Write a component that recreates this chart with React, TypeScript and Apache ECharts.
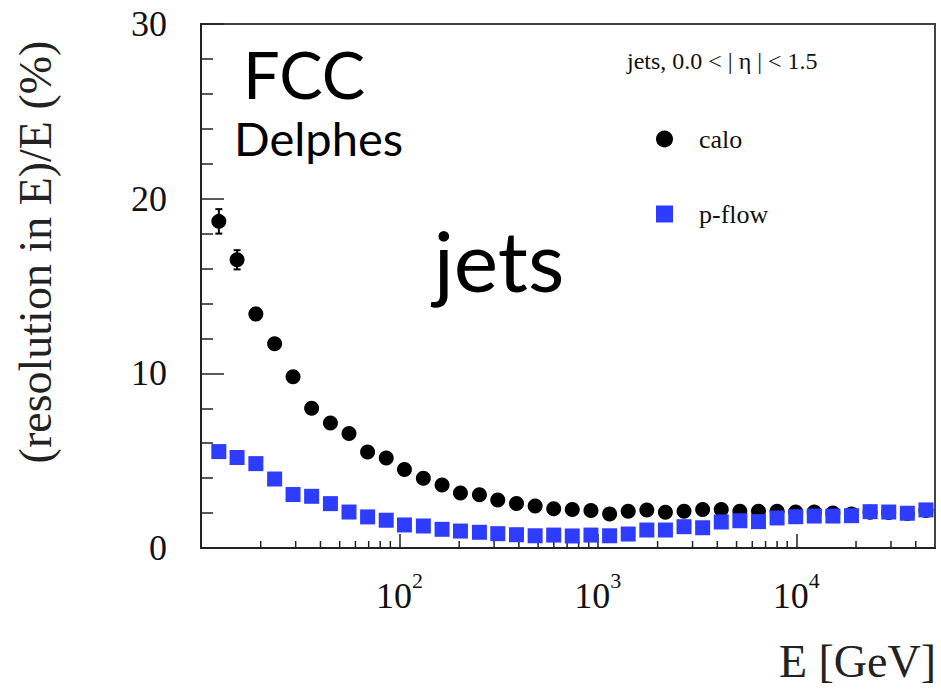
import React, { useEffect, useRef } from "react";
import * as echarts from "echarts";

// Jet energy (GeV), bin centres on a log scale
const energies = [
  12.3, 15.2, 18.9, 23.5, 29.1, 36.1, 44.9, 55.7, 69.1, 85.8,
  106, 132, 164, 203, 253, 313, 389, 483, 599, 743,
  923, 1146, 1422, 1765, 2190, 2718, 3373, 4186, 5195, 6447,
  8000, 9930, 12320, 15290, 18980, 23550, 29230, 36270, 45010,
];

// Relative energy resolution (%), calorimeter-only jets
const caloRes = [
  18.7, 16.5, 13.4, 11.7, 9.8, 8.0, 7.15, 6.55, 5.5, 5.15,
  4.5, 4.0, 3.6, 3.15, 3.05, 2.75, 2.55, 2.4, 2.25, 2.2,
  2.15, 1.95, 2.1, 2.18, 2.05, 2.1, 2.2, 2.2, 2.1, 2.1,
  2.1, 2.06, 2.06, 2.0, 1.95, 2.05, 2.03, 1.97, 2.15,
];

// Statistical uncertainty on the calo points (%)
const caloErr = [
  0.7, 0.55, 0.35, 0.3, 0.25, 0.2, 0.2, 0.18, 0.15, 0.15,
  0.12, 0.12, 0.1, 0.1, 0.1, 0.1, 0.1, 0.1, 0.1, 0.1,
  0.1, 0.1, 0.1, 0.1, 0.1, 0.1, 0.1, 0.1, 0.1, 0.1,
  0.1, 0.1, 0.1, 0.1, 0.1, 0.1, 0.1, 0.1, 0.1,
];

// Relative energy resolution (%), particle-flow jets
const pflowRes = [
  5.52, 5.18, 4.83, 3.95, 3.06, 2.96, 2.54, 2.06, 1.78, 1.59,
  1.32, 1.26, 1.07, 0.97, 0.9, 0.82, 0.76, 0.7, 0.74, 0.69,
  0.74, 0.7, 0.8, 1.03, 1.03, 1.22, 1.16, 1.49, 1.56, 1.51,
  1.72, 1.79, 1.83, 1.83, 1.85, 2.08, 2.06, 1.99, 2.18,
];

// Minor ticks of the logarithmic energy axis
const xMinorTicks = [
  20, 30, 40, 50, 60, 70, 80, 90,
  200, 300, 400, 500, 600, 700, 800, 900,
  2000, 3000, 4000, 5000, 6000, 7000, 8000, 9000,
  20000, 30000, 40000,
];

const SERIF = "'Liberation Serif', 'DejaVu Serif', serif";
const SANS = "Lato, 'Open Sans', sans-serif";
const INK = "#111";
const BLUE = "#2e3cff";

export default function App() {
  const ref = useRef<HTMLDivElement>(null);

  useEffect(() => {
    if (!ref.current) return;
    const chart = echarts.init(ref.current, undefined, { renderer: "svg" });

    const option = {
      animation: false,
      backgroundColor: "#fff",
      grid: {
        left: 201,
        top: 24,
        width: 734,
        height: 524,
        show: true,
        borderColor: "#444",
        borderWidth: 2,
        backgroundColor: "transparent",
      },
      legend: {
        data: ["calo", "p-flow"],
        orient: "vertical",
        left: 651,
        top: 121,
        itemWidth: 17,
        itemHeight: 17,
        itemGap: 49,
        textStyle: {
          fontFamily: SERIF,
          fontSize: 26,
          color: INK,
          lineHeight: 25,
          padding: [0, 0, 0, 21],
        },
      },
      xAxis: {
        type: "log",
        logBase: 10,
        min: 10,
        max: 50000,
        splitLine: { show: false },
        axisLine: { lineStyle: { color: "#222", width: 2 } },
        axisTick: { inside: true, length: 14, lineStyle: { color: "#222", width: 1.5 } },
        axisLabel: {
          margin: 21,
          color: INK,
          showMinLabel: false,
          showMaxLabel: false,
          formatter: (v: number) => {
            const lg = Math.log10(v);
            const p = Math.round(lg);
            if (p <= 1 || Math.abs(lg - p) > 1e-6) return "";
            return `{b|10}{s|${p}}`;
          },
          rich: {
            b: { fontFamily: SERIF, fontSize: 36, color: INK },
            s: { fontFamily: SERIF, fontSize: 22, color: INK, padding: [0, 0, 32, 0] },
          },
        },
      },
      yAxis: {
        type: "value",
        min: 0,
        max: 30,
        interval: 10,
        splitLine: { show: false },
        axisLine: { show: true, lineStyle: { color: "#222", width: 2 } },
        axisTick: { inside: true, length: 23, lineStyle: { color: "#222", width: 1.5 } },
        minorTick: { show: true, splitNumber: 5, length: 12, lineStyle: { color: "#222", width: 1.5 } },
        axisLabel: { margin: 34, fontFamily: SERIF, fontSize: 36, color: INK },
      },
      graphic: [
        {
          type: "text",
          x: 35,
          y: 252,
          rotation: Math.PI / 2,
          style: {
            text: "(resolution in E)/E (%)",
            fontFamily: SERIF,
            fontSize: 46,
            fill: "#222",
            textAlign: "center",
            textVerticalAlign: "middle",
          },
        },
        {
          type: "text",
          x: 936,
          y: 661,
          style: {
            text: "E [GeV]",
            fontFamily: SERIF,
            fontSize: 46,
            fill: "#222",
            textAlign: "right",
            textVerticalAlign: "middle",
          },
        },
        {
          type: "text",
          x: 243,
          y: 74,
          style: { text: "FCC", fontFamily: SANS, fontSize: 65, fill: "#000", textAlign: "left", textVerticalAlign: "middle" },
        },
        {
          type: "text",
          x: 234,
          y: 138,
          style: { text: "Delphes", fontFamily: SANS, fontSize: 47, fill: "#000", textAlign: "left", textVerticalAlign: "middle" },
        },
        {
          type: "text",
          x: 499,
          y: 259,
          style: { text: "jets", fontFamily: SANS, fontSize: 84, fill: "#000", textAlign: "center", textVerticalAlign: "middle" },
        },
        {
          type: "text",
          x: 627,
          y: 61,
          style: { text: "jets, 0.0 < | η | < 1.5", fontFamily: SERIF, fontSize: 24, fill: INK, textAlign: "left", textVerticalAlign: "middle" },
        },
      ],
      series: [
        {
          name: "minor ticks",
          type: "custom",
          silent: true,
          clip: false,
          data: xMinorTicks.map((v) => [v, 0]),
          renderItem: (_params: any, api: any) => {
            const p = api.coord([api.value(0), 0]);
            return {
              type: "line",
              shape: { x1: p[0], y1: p[1], x2: p[0], y2: p[1] - 7 },
              style: { stroke: "#222", lineWidth: 1.5 },
            };
          },
          z: 1,
        },
        {
          name: "calo errors",
          type: "custom",
          silent: true,
          data: energies.map((e, i) => [e, caloRes[i], caloErr[i]]),
          encode: { x: 0, y: 1 },
          renderItem: (_params: any, api: any) => {
            const x = api.value(0);
            const y = api.value(1);
            const err = api.value(2);
            const hi = api.coord([x, y + err]);
            const lo = api.coord([x, y - err]);
            const cap = 3.5;
            const st = { stroke: "#000", lineWidth: 2 };
            return {
              type: "group",
              children: [
                { type: "line", shape: { x1: hi[0], y1: hi[1], x2: lo[0], y2: lo[1] }, style: st },
                { type: "line", shape: { x1: hi[0] - cap, y1: hi[1], x2: hi[0] + cap, y2: hi[1] }, style: st },
                { type: "line", shape: { x1: lo[0] - cap, y1: lo[1], x2: lo[0] + cap, y2: lo[1] }, style: st },
              ],
            };
          },
          z: 2,
        },
        {
          name: "calo",
          type: "scatter",
          symbol: "circle",
          symbolSize: 15,
          itemStyle: { color: "#000", opacity: 1 },
          data: energies.map((e, i) => [e, caloRes[i]]),
          z: 3,
        },
        {
          name: "p-flow",
          type: "scatter",
          symbol: "rect",
          symbolSize: 15,
          itemStyle: { color: BLUE, opacity: 1 },
          data: energies.map((e, i) => [e, pflowRes[i]]),
          z: 4,
        },
      ],
    };

    chart.setOption(option as any);
    return () => chart.dispose();
  }, []);

  return (
    <div
      ref={ref}
      style={{ position: "absolute", left: 0, top: 0, width: 941, height: 691, background: "#fff" }}
    />
  );
}
